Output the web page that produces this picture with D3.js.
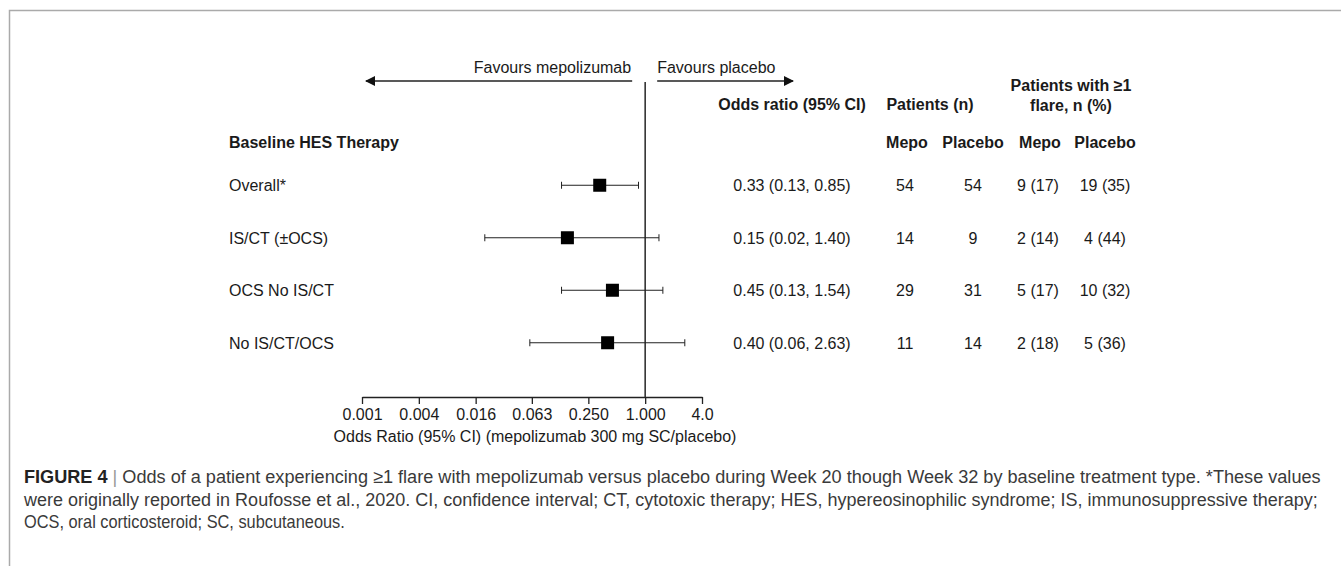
<!DOCTYPE html>
<html>
<head>
<meta charset="utf-8">
<script src="https://cdn.jsdelivr.net/npm/d3@7"></script>
<style>
  body { margin: 0; background: #fff; }
  text { font-family: "Liberation Sans", Arial, sans-serif; fill: #1a1a1a; font-size: 16px; }
  .bold { font-weight: bold; }
  .cap { font-family: "Liberation Sans", Arial, sans-serif; fill: #3a3a3a; font-size: 18.5px; }
</style>
</head>
<body>
<div id="chart"></div>
<script>
var svgWidth = 1341;
var svgHeight = 566;

// data
var groups = ["Overall*", "IS/CT (\u00b1OCS)", "OCS No IS/CT", "No IS/CT/OCS"];
var oddsRatio = [0.33, 0.15, 0.45, 0.40];
var ciLow = [0.13, 0.02, 0.13, 0.06];
var ciHigh = [0.85, 1.40, 1.54, 2.63];
var nMepo = [54, 14, 29, 11];
var nPlacebo = [54, 9, 31, 14];
var flareMepo = ["9 (17)", "2 (14)", "5 (17)", "2 (18)"];
var flarePlacebo = ["19 (35)", "4 (44)", "10 (32)", "5 (36)"];
var tickValues = [0.001, 0.004, 0.016, 0.063, 0.25, 1, 4];
var tickLabels = ["0.001", "0.004", "0.016", "0.063", "0.250", "1.000", "4.0"];

var captionLines = [
  "Odds of a patient experiencing \u22651 flare with mepolizumab versus placebo during Week 20 though Week 32 by baseline treatment type. *These values",
  "were originally reported in Roufosse et al., 2020. CI, confidence interval; CT, cytotoxic therapy; HES, hypereosinophilic syndrome; IS, immunosuppressive therapy;",
  "OCS, oral corticosteroid; SC, subcutaneous."
];

var svg = d3.select("#chart")
  .append("svg")
  .attr("width", svgWidth)
  .attr("height", svgHeight);

// frame round the figure
svg.append("path")
  .attr("d", "M9.5," + svgHeight + "V10.5H" + svgWidth)
  .attr("fill", "none")
  .attr("stroke", "#aaa")
  .attr("stroke-width", 1.5);

// log scale for odds ratio
var x = d3.scaleLog()
  .base(4)
  .domain([0.001, 4])
  .range([362, 702]);

var y = d3.scaleBand()
  .domain(groups)
  .range([159, 369]);

var axisY = 397;

var xAxis = d3.axisBottom(x)
  .tickValues(tickValues)
  .tickFormat((d, i) => tickLabels[i])
  .tickSize(7)
  .tickSizeOuter(0);

var axisG = svg.append("g")
  .attr("transform", `translate(0, ${axisY})`)
  .call(xAxis);
axisG.select(".domain").attr("stroke", "#222").attr("stroke-width", 1.3);
axisG.selectAll(".tick line").attr("stroke", "#222").attr("stroke-width", 1.3);
axisG.selectAll(".tick text")
  .attr("y", 12)
  .attr("font-size", 16)
  .attr("font-family", "Liberation Sans, Arial, sans-serif")
  .attr("fill", "#1a1a1a");

svg.append("text")
  .attr("x", 535)
  .attr("y", 442)
  .attr("text-anchor", "middle")
  .text("Odds Ratio (95% CI) (mepolizumab 300 mg SC/placebo)");

// line of no effect
svg.append("line")
  .attr("x1", x(1)).attr("x2", x(1))
  .attr("y1", 82).attr("y2", axisY)
  .attr("stroke", "#333")
  .attr("stroke-width", 1.6);

// favours arrows
var defs = svg.append("defs");
defs.append("marker")
  .attr("id", "arrow")
  .attr("viewBox", "0 0 10 10")
  .attr("refX", 9).attr("refY", 5)
  .attr("markerWidth", 11).attr("markerHeight", 10)
  .attr("markerUnits", "userSpaceOnUse")
  .attr("orient", "auto")
  .append("path")
  .attr("d", "M0,0L10,5L0,10Z")
  .attr("fill", "#111");

svg.append("line")
  .attr("x1", x(1) - 13).attr("x2", 366)
  .attr("y1", 81).attr("y2", 81)
  .attr("stroke", "#222").attr("stroke-width", 1.3)
  .attr("marker-end", "url(#arrow)");

svg.append("line")
  .attr("x1", x(1) + 12).attr("x2", 793)
  .attr("y1", 81).attr("y2", 81)
  .attr("stroke", "#222").attr("stroke-width", 1.3)
  .attr("marker-end", "url(#arrow)");

svg.append("text")
  .attr("x", x(1) - 14).attr("y", 73)
  .attr("text-anchor", "end")
  .text("Favours mepolizumab");

svg.append("text")
  .attr("x", x(1) + 12).attr("y", 73)
  .text("Favours placebo");

// column positions
var colOR = 792, colNM = 907, colNP = 973, colFM = 1040, colFP = 1105;

var headers = [
  { t: "Odds ratio (95% CI)", x: colOR, y: 110 },
  { t: "Patients (n)", x: 930, y: 110 },
  { t: "Patients with \u22651", x: 1071, y: 91 },
  { t: "flare, n (%)", x: 1071, y: 111 },
  { t: "Mepo", x: colNM, y: 148 },
  { t: "Placebo", x: colNP, y: 148 },
  { t: "Mepo", x: colFM, y: 148 },
  { t: "Placebo", x: colFP, y: 148 }
];
svg.selectAll(".hdr")
  .data(headers)
  .enter()
  .append("text")
  .attr("class", "bold")
  .attr("x", d => d.x)
  .attr("y", d => d.y)
  .attr("text-anchor", "middle")
  .text(d => d.t);

svg.append("text")
  .attr("class", "bold")
  .attr("x", 229).attr("y", 148)
  .text("Baseline HES Therapy");

// rows
var rows = groups.map((g, i) => ({
  g: g, or: oddsRatio[i], lo: ciLow[i], hi: ciHigh[i],
  nm: nMepo[i], np: nPlacebo[i], fm: flareMepo[i], fp: flarePlacebo[i]
}));

var rowG = svg.selectAll(".row")
  .data(rows)
  .enter()
  .append("g")
  .attr("transform", d => `translate(0, ${y(d.g) + y.bandwidth() / 2})`);

rowG.append("text")
  .attr("x", 229).attr("y", 6)
  .text(d => d.g);

rowG.append("line")
  .attr("x1", d => x(d.lo)).attr("x2", d => x(d.hi))
  .attr("stroke", "#222").attr("stroke-width", 1);

rowG.selectAll(".cap-tick")
  .data(d => [d.lo, d.hi])
  .enter()
  .append("line")
  .attr("x1", d => x(d)).attr("x2", d => x(d))
  .attr("y1", -3.5).attr("y2", 3.5)
  .attr("stroke", "#222").attr("stroke-width", 1);

rowG.append("rect")
  .attr("x", d => x(d.or) - 6.5)
  .attr("y", -6.5)
  .attr("width", 13).attr("height", 13)
  .attr("fill", "#000");

rowG.append("text")
  .attr("x", colOR).attr("y", 6)
  .attr("text-anchor", "middle")
  .text(d => `${d.or.toFixed(2)} (${d.lo.toFixed(2)}, ${d.hi.toFixed(2)})`);

var cols = [
  { x: colNM - 2, f: d => d.nm },
  { x: colNP, f: d => d.np },
  { x: colFM - 2, f: d => d.fm },
  { x: colFP, f: d => d.fp }
];
cols.forEach(function(c) {
  rowG.append("text")
    .attr("x", c.x).attr("y", 6)
    .attr("text-anchor", "middle")
    .text(c.f);
});

// caption, squeezed sideways to look like the narrow face of the original
var capLeft = 24;
var capEnds = [1322, 1318, 345];
var capY = [483, 506, 528];

capY.forEach(function(cy, i) {
  var g = svg.append("g");
  var t = g.append("text")
    .attr("class", "cap")
    .attr("x", 0).attr("y", 0);
  if (i === 0) {
    t.append("tspan")
      .attr("font-weight", "bold")
      .attr("fill", "#222")
      .text("FIGURE 4");
    t.append("tspan")
      .attr("fill", "#999")
      .text(" | ");
    t.append("tspan").text(captionLines[0]);
  } else {
    t.text(captionLines[i]);
  }
  var sx = (capEnds[i] - capLeft) / t.node().getComputedTextLength();
  g.attr("transform", `translate(${capLeft}, ${cy}) scale(${sx}, 1)`);
});
</script>
</body>
</html>
